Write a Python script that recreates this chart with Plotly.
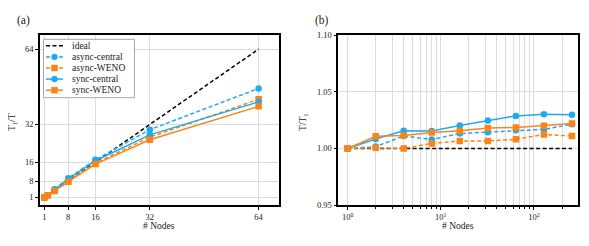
import plotly.graph_objects as go

# ---- data: panel (a) strong scaling ----
nodes_a = [1, 2, 4, 8, 16, 32, 64]
ideal_a = [1, 2, 4, 8, 16, 32, 64]
async_central_a = [1, 2.0, 4.5, 9.2, 17.0, 29.8, 47.3]
async_weno_a = [1, 1.9, 3.9, 7.9, 15.6, 26.6, 42.7]
sync_central_a = [1, 2.0, 4.3, 8.8, 16.6, 27.6, 41.6]
sync_weno_a = [1, 1.9, 3.8, 7.7, 15.2, 25.5, 39.7]

# ---- data: panel (b) weak scaling ----
nodes_b = [1, 2, 4, 8, 16, 32, 64, 128, 256]
ideal_b = [1.0] * 9
async_central_b = [1.000, 1.0017, 1.011, 1.008, 1.0132, 1.0143, 1.016, 1.0169, 1.0214]
async_weno_b = [1.000, 1.0006, 1.000, 1.0045, 1.0067, 1.0067, 1.0081, 1.0124, 1.011]
sync_central_b = [1.000, 1.0084, 1.0157, 1.0155, 1.0202, 1.0247, 1.0287, 1.0301, 1.0298]
sync_weno_b = [1.000, 1.0107, 1.0115, 1.014, 1.0157, 1.018, 1.0185, 1.020, 1.022]

yticks_a = [1, 8, 16, 32, 64]
xticks_a = [1, 8, 16, 32, 64]
yticks_b = [0.95, 1.00, 1.05, 1.10]
yticklabels_b = ["0.95", "1.00", "1.05", "1.10"]
xticks_b = [1, 10, 100]
xticklabels_b = ["10<sup>0</sup>", "10<sup>1</sup>", "10<sup>2</sup>"]
minor_b = [v * m for m in (1, 10, 100) for v in range(2, 10) if v * m <= 300]

BLUE = "#1eaaf0"
ORANGE = "#fb8418"
FONT = "Liberation Serif"
GRID = "#dcdcdc"
TXT = "#222222"
DASH = "4px,2.5px"

# page body has an 8px margin: size the figure so it fits the 589x246 window
OFF = 8
W, H = 589 - 2 * OFF, 246 - 2 * OFF


def px(X):
    return (X - OFF) / W


def py(Y):
    return 1 - (Y - OFF) / H


series = [
    ("ideal", ideal_a, ideal_b, "black", DASH, None),
    ("async-central", async_central_a, async_central_b, BLUE, DASH, "circle"),
    ("async-WENO", async_weno_a, async_weno_b, ORANGE, DASH, "square"),
    ("sync-central", sync_central_a, sync_central_b, BLUE, "solid", "circle"),
    ("sync-WENO", sync_weno_a, sync_weno_b, ORANGE, "solid", "square"),
]

fig = go.Figure()

for name, ya, yb, col, dash, sym in series:
    mode = "lines" if sym is None else "lines+markers"
    mk = dict(symbol=sym, size=6.5, color=col) if sym else None
    fig.add_trace(go.Scatter(x=nodes_a, y=ya, name=name, mode=mode,
                             line=dict(color=col, dash=dash, width=1.5),
                             marker=mk, xaxis="x", yaxis="y", showlegend=False))
    fig.add_trace(go.Scatter(x=nodes_b, y=yb, name=name, mode=mode,
                             line=dict(color=col, dash=dash, width=1.5),
                             marker=mk, xaxis="x2", yaxis="y2", showlegend=False))

# ---- compact legend drawn with shapes (box 43..134 x 35..96 px) ----
shapes = [dict(type="rect", xref="paper", yref="paper",
               x0=px(43.5), x1=px(134.5), y0=py(96.5), y1=py(35.5),
               fillcolor="rgba(255,255,255,0.95)", line=dict(color="#a8a8a8", width=1),
               layer="above")]
annotations = []
for i, (name, ya, yb, col, dash, sym) in enumerate(series):
    ry = py(42.3 + 11.6 * i)
    shapes.append(dict(type="line", xref="paper", yref="paper", x0=px(46), x1=px(63),
                       y0=ry, y1=ry, line=dict(color=col, dash=dash, width=1.5),
                       layer="above"))
    if sym:
        shapes.append(dict(type="circle" if sym == "circle" else "rect",
                           xref="paper", yref="paper", xsizemode="pixel", ysizemode="pixel",
                           xanchor=px(54.5), yanchor=ry, x0=-3, x1=3, y0=-3, y1=3,
                           fillcolor=col, line=dict(color=col, width=0.5), layer="above"))
    annotations.append(dict(text=name, x=px(70), y=ry, xref="paper", yref="paper",
                            showarrow=False, xanchor="left", yanchor="middle",
                            font=dict(family=FONT, size=9.5, color=TXT)))

axis_common = dict(showline=True, linecolor="black", linewidth=1.6, mirror=True,
                   ticks="outside", ticklen=3, tickcolor="black",
                   gridcolor=GRID, gridwidth=1, zeroline=False,
                   tickfont=dict(family=FONT, size=8.5, color=TXT))

title_font = dict(family=FONT, size=9.5, color=TXT)
annotations += [
    dict(text="(a)", x=px(15), y=py(16), xref="paper", yref="paper", showarrow=False,
         font=dict(family=FONT, size=11.5, color=TXT), xanchor="left", yanchor="middle"),
    dict(text="(b)", x=px(313), y=py(16), xref="paper", yref="paper", showarrow=False,
         font=dict(family=FONT, size=11.5, color=TXT), xanchor="left", yanchor="middle"),
    dict(text="# Nodes", x=px(159), y=py(231), xref="paper", yref="paper",
         showarrow=False, font=title_font, xanchor="center", yanchor="middle"),
    dict(text="# Nodes", x=px(458), y=py(231), xref="paper", yref="paper",
         showarrow=False, font=title_font, xanchor="center", yanchor="middle"),
    dict(text="T<sub>1</sub>/T", x=px(12), y=py(122), xref="paper", yref="paper",
         showarrow=False, font=title_font, textangle=-90, xanchor="center", yanchor="middle"),
    dict(text="T/T<sub>1</sub>", x=px(303), y=py(122), xref="paper", yref="paper",
         showarrow=False, font=title_font, textangle=-90, xanchor="center", yanchor="middle"),
]

fig.update_layout(
    width=W, height=H,
    margin=dict(l=0, r=0, t=0, b=0),
    paper_bgcolor="white", plot_bgcolor="white",
    font=dict(family=FONT, size=9, color=TXT),
    showlegend=False,
    xaxis=dict(domain=[px(40), px(279)], range=[-0.3, 70], tickvals=xticks_a, **axis_common),
    yaxis=dict(domain=[py(209), py(31)], range=[-2.3, 70], tickvals=yticks_a, **axis_common),
    xaxis2=dict(domain=[px(338.3), px(578.3)], type="log", range=[-0.1, 2.476],
                tickvals=xticks_b, ticktext=xticklabels_b, anchor="y2",
                minor=dict(tickvals=minor_b, showgrid=True, gridcolor=GRID,
                           ticks="outside", ticklen=2, tickcolor="black"),
                **axis_common),
    yaxis2=dict(domain=[py(209), py(31)], range=[0.95, 1.10], tickvals=yticks_b,
                ticktext=yticklabels_b, anchor="x2", **axis_common),
    shapes=shapes,
    annotations=annotations,
)

fig.write_html("out.html")
